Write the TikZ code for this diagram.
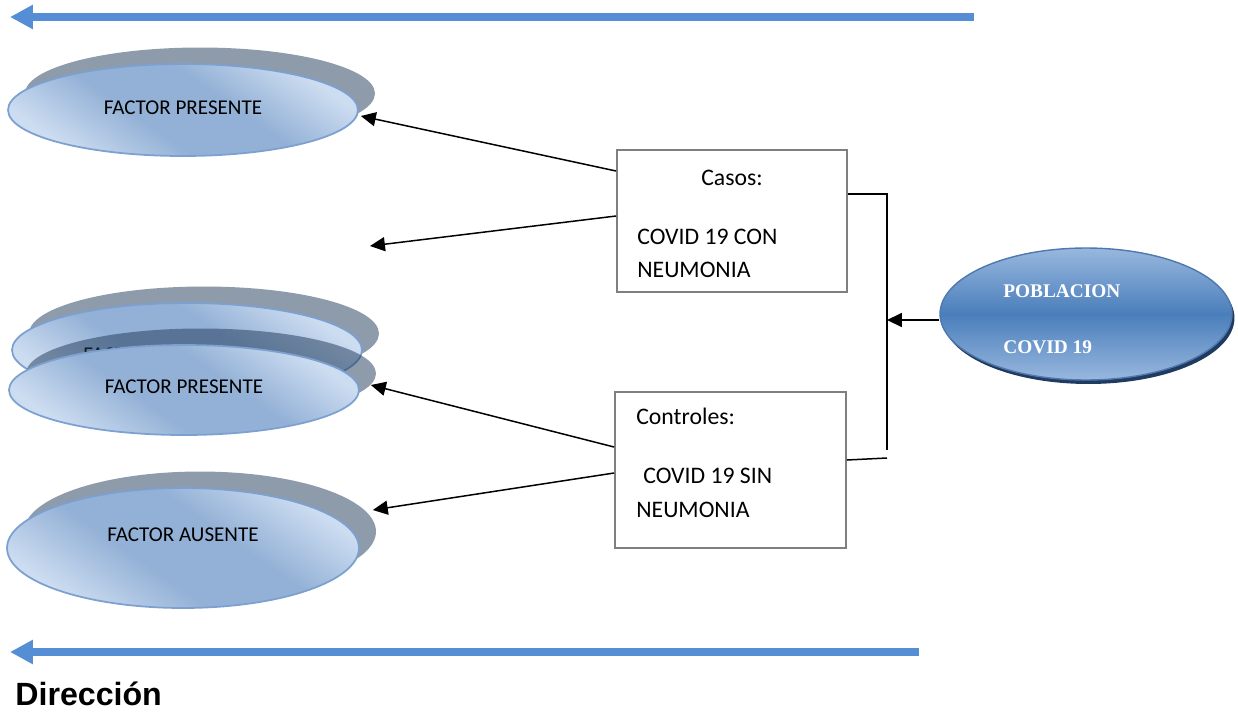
\documentclass[tikz,border=0pt]{standalone}
\usepackage{fontspec}
\setmainfont{Carlito}
\newfontfamily\popfont{Liberation Serif}
\newfontfamily\dirfont{Liberation Sans}
\usetikzlibrary{shapes.geometric, arrows.meta, calc, positioning, shadows}
\definecolor{factorlight}{RGB}{205,221,241}
\definecolor{factordark}{RGB}{147,177,214}
\definecolor{factorline}{RGB}{124,160,208}
\definecolor{shadowtone}{RGB}{30,55,85}
\definecolor{popdark}{RGB}{74,126,187}
\definecolor{poplight}{RGB}{152,184,222}
\definecolor{popline}{RGB}{80,120,175}
\definecolor{popshadow}{RGB}{31,59,96}
\definecolor{dirblue}{RGB}{85,142,213}
\definecolor{boxline}{RGB}{127,127,127}
\pgfdeclareverticalshading{factorfill}{100bp}{color(0bp)=(factorlight); color(25bp)=(factorlight); color(42bp)=(factordark); color(58bp)=(factordark); color(75bp)=(factorlight); color(100bp)=(factorlight)}
\tikzstyle{factor} = [ellipse, draw=factorline, line width=1pt, minimum width=7cm, minimum height=1.84cm, inner sep=0pt, shading=factorfill, shading angle=-35, drop shadow={shadow xshift=0.34cm, shadow yshift=0.33cm, fill=shadowtone, opacity=0.5}]
\tikzstyle{factortext} = [font=\fontsize{12}{14}\selectfont, anchor=base, inner sep=0pt]
\tikzstyle{population} = [ellipse, draw=popline, line width=0.8pt, minimum width=5.84cm, minimum height=2.64cm, top color=poplight, bottom color=poplight, middle color=popdark, drop shadow={shadow xshift=0.05cm, shadow yshift=-0.08cm, fill=popshadow, opacity=1}]
\tikzstyle{poptext} = [font=\popfont\bfseries\fontsize{11}{13}\selectfont, text=white, anchor=base west, inner sep=0pt]
\tikzstyle{group} = [rectangle, draw=boxline, line width=1.1pt, inner sep=0pt]
\tikzstyle{grouptext} = [font=\fontsize{13.5}{16}\selectfont, anchor=base west, inner sep=0pt]
\tikzstyle{link} = [line width=0.85pt]
\tikzstyle{arrow} = [line width=0.85pt, -{Triangle[length=8.5pt, width=8pt]}]
\tikzstyle{direction} = [draw=dirblue, line width=0.16cm, -{Triangle[length=0.46cm, width=0.46cm]}]

\begin{document}
\begin{tikzpicture}[x=0.02cm, y=-0.02cm]
	\useasboundingbox (0,0) rectangle (1238,711);
	% direction arrows
	\coordinate (TopStart) at (974,17);
	\coordinate (TopEnd) at (10,17);
	\coordinate (LowStart) at (919,652);
	\coordinate (LowEnd) at (10,652);
	\draw [direction] (TopStart) -- (TopEnd);
	\draw [direction] (LowStart) -- (LowEnd);
	\node (Direccion) [anchor=base west, inner sep=0pt, font=\dirfont\bfseries\fontsize{18.3}{21}\selectfont] at (15,705) {Dirección};

	% factor ellipses
	\node (PresentA) [factor] at (183,110) {};
	\node (PresentAText) [factortext] at (183,114) {FACTOR PRESENTE};
	\node (Hidden) [factor, minimum height=1.88cm] at (187,350) {};
	\node (HiddenText) [factortext, anchor=base west] at (83,361) {FACTOR AUSENTE};
	\node (PresentB) [factor, minimum height=1.8cm] at (184,390) {};
	\node (PresentBText) [factortext] at (184,393) {FACTOR PRESENTE};
	\node (Absent) [factor, minimum width=7.04cm, minimum height=2.4cm] at (183,548) {};
	\node (AbsentText) [factortext] at (183,541) {FACTOR AUSENTE};

	% groups
	\node (Casos) [group, minimum width=4.6cm, minimum height=2.84cm] at (732,221) {};
	\node (CasosHead) [grouptext, anchor=base] at (732,185) {Casos:};
	\node (CasosLineA) [grouptext] at (637,244) {COVID 19 CON};
	\node (CasosLineB) [grouptext] at (637,277) {NEUMONIA};
	\node (Controles) [group, minimum width=4.62cm, minimum height=3.12cm] at (730.5,470) {};
	\node (ControlesHead) [grouptext] at (636,424) {Controles:};
	\node (ControlesLineA) [grouptext] at (643,483) {COVID 19 SIN};
	\node (ControlesLineB) [grouptext] at (636,517) {NEUMONIA};

	% population
	\node (Poblacion) [population] at (1086,314) {};
	\node (PoblacionA) [poptext] at (1003,297) {POBLACION};
	\node (PoblacionB) [poptext] at (1003,353) {COVID 19};

	% bracket joining the groups
	\coordinate (JoinTop) at (887,194);
	\coordinate (JoinBottom) at (887,450);
	\coordinate (JoinLow) at (887,458);
	\coordinate (JoinMid) at (887,320);
	\draw [link] (Casos.east |- JoinTop) -- (JoinTop) -- (JoinBottom);
	\draw [link] ($(Controles.east)+(0,-10)$) -- (JoinLow);
	\draw [arrow] (Poblacion.west |- JoinMid) -- (JoinMid);

	% arrows towards the factors
	\coordinate (Empty) at (370,246);
	\draw [arrow] ($(Casos.west)+(0,-50)$) -- ($(PresentA.east)+(2,6)$);
	\draw [arrow] ($(Casos.west)+(0,-5)$) -- (Empty);
	\draw [arrow] ($(Controles.west)+(0,-23)$) -- ($(PresentB.east)+(11,-5)$);
	\draw [arrow] ($(Controles.west)+(0,3)$) -- ($(Absent.east)+(13,-38)$);
\end{tikzpicture}
\end{document}
